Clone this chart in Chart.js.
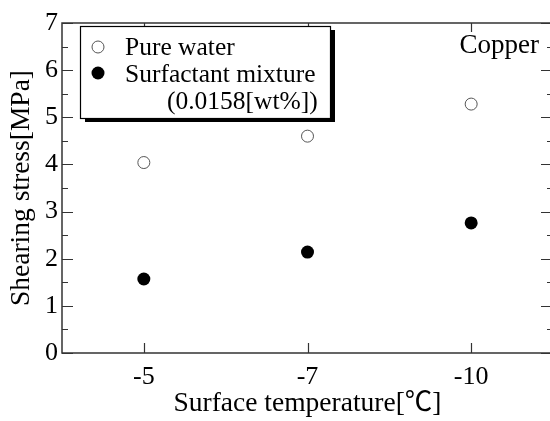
<!DOCTYPE html>
<html><head><meta charset="utf-8">
<script src="https://cdn.jsdelivr.net/npm/chart.js@4"></script>
<style>html,body{margin:0;padding:0;background:#fff;overflow:hidden}#wrap{width:550px;height:421px;overflow:hidden}</style>
</head><body><div id="wrap"><canvas id="c" width="560" height="421"></canvas></div>
<script>
const categories = ['-5', '-7', '-10'];
const pureWater = [4.04, 4.60, 5.28];
const surfactant = [1.57, 2.14, 2.76];
const yTicks = [0, 1, 2, 3, 4, 5, 6, 7];
const seriesNames = ['Pure water', 'Surfactant mixture', '(0.0158[wt%])'];
const annotation = 'Copper';
const xTitle = 'Surface temperature[\u2103]';
const yTitle = 'Shearing stress[MPa]';

const FONT = '"Liberation Serif", "Noto Sans CJK JP", "Times New Roman", serif';
const FS_TICK = 26, FS_TITLE = 27.5, FS_LEG = 25.5;

const decor = {
  id: 'decor',
  afterDatasetsDraw(chart) {
    const { ctx, chartArea: a, scales: { x, y } } = chart;
    ctx.save();
    ctx.strokeStyle = '#333';
    ctx.lineWidth = 1.5;
    // frame: left, top, bottom (right edge falls outside the visible window)
    ctx.beginPath();
    ctx.moveTo(a.right + 3, a.top); ctx.lineTo(a.left, a.top);
    ctx.lineTo(a.left, a.bottom); ctx.lineTo(a.right + 3, a.bottom);
    ctx.stroke();
    ctx.lineWidth = 1.2;
    ctx.beginPath();
    const vals = [];
    yTicks.forEach((v, i) => {
      vals.push([v, true]);
      if (i < yTicks.length - 1) vals.push([(v + yTicks[i + 1]) / 2, false]);
    });
    vals.forEach(([v, major]) => {
      const py = Math.round(y.getPixelForValue(v)) + 0.5;
      const l = major ? 11 : 6, r = major ? 12 : 6;
      ctx.moveTo(a.left, py); ctx.lineTo(a.left + l, py);
      ctx.moveTo(a.right, py); ctx.lineTo(a.right - r, py);
    });
    categories.forEach((c, i) => {
      const px = Math.round(x.getPixelForValue(i)) + 0.5;
      ctx.moveTo(px, a.bottom); ctx.lineTo(px, a.bottom - 10);
      ctx.moveTo(px, a.top); ctx.lineTo(px, a.top + 9);
    });
    ctx.stroke();

    // legend box with shadow
    const lx = a.left + 18, ly = a.top + 3, lw = 250, lh = 92;
    ctx.fillStyle = '#000';
    ctx.fillRect(lx + 5, ly + 4, lw, lh);
    ctx.fillStyle = '#fff';
    ctx.fillRect(lx, ly, lw, lh);
    ctx.lineWidth = 1.2;
    ctx.strokeStyle = '#000';
    ctx.strokeRect(lx + 0.5, ly + 0.5, lw, lh);

    ctx.beginPath();
    ctx.arc(lx + 18, ly + 21, 6, 0, Math.PI * 2);
    ctx.fillStyle = '#fff'; ctx.fill();
    ctx.strokeStyle = '#555'; ctx.lineWidth = 1; ctx.stroke();
    ctx.beginPath();
    ctx.arc(lx + 18, ly + 47, 6.5, 0, Math.PI * 2);
    ctx.fillStyle = '#000'; ctx.fill();

    ctx.fillStyle = '#000';
    ctx.font = FS_LEG + 'px ' + FONT;
    ctx.textBaseline = 'alphabetic';
    ctx.textAlign = 'left';
    ctx.fillText(seriesNames[0], lx + 45, ly + 29);
    ctx.fillText(seriesNames[1], lx + 45, ly + 56);
    ctx.fillText(seriesNames[2], lx + 87, ly + 83);

    ctx.font = '27px ' + FONT;
    ctx.textAlign = 'right';
    ctx.fillText(annotation, 539, a.top + 30);
    ctx.restore();
  }
};

new Chart(document.getElementById('c'), {
  type: 'scatter',
  data: {
    datasets: [
      {
        label: seriesNames[0],
        data: categories.map((c, i) => ({ x: i, y: pureWater[i] })),
        pointStyle: 'circle', pointRadius: 6, pointBackgroundColor: '#fff',
        pointBorderColor: '#555', pointBorderWidth: 1
      },
      {
        label: seriesNames[1],
        data: categories.map((c, i) => ({ x: i, y: surfactant[i] })),
        pointStyle: 'circle', pointRadius: 6.5, pointBackgroundColor: '#000',
        pointBorderColor: '#000', pointBorderWidth: 0
      }
    ]
  },
  options: {
    responsive: false,
    animation: false,
    devicePixelRatio: 1,
    layout: { padding: { left: 0, top: 23, right: 0, bottom: 0 } },
    plugins: { legend: { display: false }, tooltip: { enabled: false } },
    scales: {
      x: {
        type: 'linear', min: -0.5, max: 2.5,
        afterBuildTicks: s => { s.ticks = categories.map((c, i) => ({ value: i })); },
        afterFit: s => { s.height = 68; },
        grid: { display: false, drawTicks: false },
        border: { display: false },
        ticks: { callback: v => categories[v], color: '#000', padding: 9, font: { family: FONT, size: FS_TICK } },
        title: { display: true, text: xTitle, color: '#000', padding: { top: 0, bottom: 1 }, font: { family: FONT, size: FS_TITLE } }
      },
      y: {
        min: 0, max: 7,
        afterBuildTicks: s => { s.ticks = yTicks.map(v => ({ value: v })); },
        afterFit: s => { s.width = 62; },
        grid: { display: false, drawTicks: false },
        border: { display: false },
        ticks: { color: '#000', padding: 4, font: { family: FONT, size: FS_TICK } },
        title: { display: true, text: yTitle, color: '#000', padding: { top: 5, bottom: 0 }, font: { family: FONT, size: FS_TITLE } }
      }
    }
  },
  plugins: [decor]
});
</script></body></html>
